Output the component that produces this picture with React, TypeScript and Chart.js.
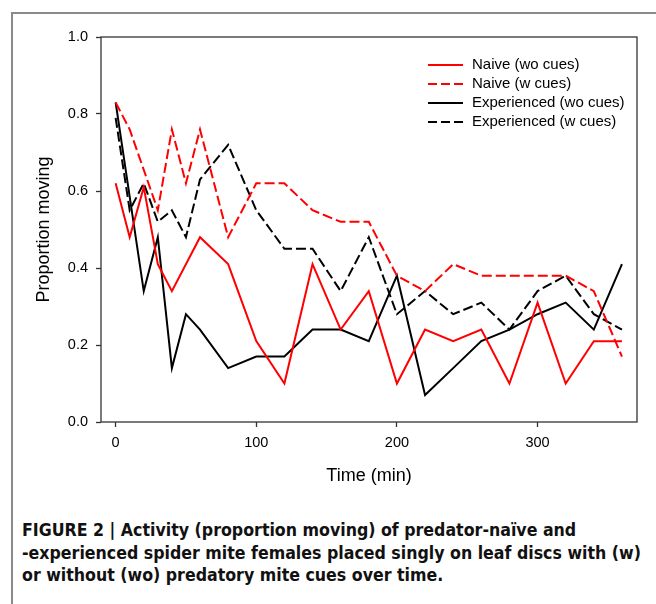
import React, { useEffect, useRef } from 'react';
import { Chart, registerables } from 'chart.js';

Chart.register(...registerables);

// Time points (min) and proportions moving for each series
const naiveWoTime = [0, 10, 20, 30, 40, 60, 80, 100, 120, 140, 160, 180, 200, 220, 240, 260, 280, 300, 320, 340, 360];
const naiveWoValues = [0.62, 0.48, 0.61, 0.41, 0.34, 0.48, 0.41, 0.21, 0.10, 0.41, 0.24, 0.34, 0.10, 0.24, 0.21, 0.24, 0.10, 0.31, 0.10, 0.21, 0.21];

const naiveWTime = [0, 10, 30, 40, 50, 60, 80, 100, 120, 140, 160, 180, 200, 220, 240, 260, 280, 300, 320, 340, 360];
const naiveWValues = [0.83, 0.76, 0.55, 0.76, 0.62, 0.76, 0.48, 0.62, 0.62, 0.55, 0.52, 0.52, 0.38, 0.34, 0.41, 0.38, 0.38, 0.38, 0.38, 0.34, 0.17];

const expWoTime = [0, 20, 30, 40, 50, 60, 80, 100, 120, 140, 160, 180, 200, 220, 240, 260, 280, 300, 320, 340, 360];
const expWoValues = [0.83, 0.34, 0.48, 0.14, 0.28, 0.24, 0.14, 0.17, 0.17, 0.24, 0.24, 0.21, 0.38, 0.07, 0.14, 0.21, 0.24, 0.28, 0.31, 0.24, 0.41];

const expWTime = [0, 10, 20, 30, 40, 50, 60, 80, 100, 120, 140, 160, 180, 200, 220, 240, 260, 280, 300, 320, 340, 360];
const expWValues = [0.79, 0.55, 0.62, 0.52, 0.55, 0.48, 0.63, 0.72, 0.55, 0.45, 0.45, 0.34, 0.48, 0.28, 0.34, 0.28, 0.31, 0.24, 0.34, 0.38, 0.28, 0.24];

const seriesNames = ['Naive (wo cues)', 'Naive (w cues)', 'Experienced (wo cues)', 'Experienced (w cues)'];
const xTickValues = [0, 100, 200, 300];
const yTickValues = [0, 0.2, 0.4, 0.6, 0.8, 1.0];
const xTitle = 'Time (min)';
const yTitle = 'Proportion moving';
const captionLines = [
  'FIGURE 2 | Activity (proportion moving) of predator-naïve and',
  '-experienced spider mite females placed singly on leaf discs with (w)',
  'or without (wo) predatory mite cues over time.',
];

const FONT = 'Arial, "Liberation Sans", Helvetica, sans-serif';
const DASH = [10, 4];

const toPoints = (t: number[], v: number[]) => t.map((x, i) => ({ x, y: v[i] }));

const styles = [
  { color: '#ff0000', dash: [] as number[] },
  { color: '#ff0000', dash: DASH },
  { color: '#000000', dash: [] as number[] },
  { color: '#000000', dash: DASH },
];

const decorPlugin = {
  id: 'decor',
  afterDraw(chart: any) {
    const { ctx, chartArea } = chart;
    const { left, right, top, bottom } = chartArea;
    ctx.save();
    // box
    ctx.strokeStyle = '#333333';
    ctx.lineWidth = 1.3;
    ctx.setLineDash([]);
    ctx.strokeRect(left, top, right - left, bottom - top);
    // axis titles
    ctx.fillStyle = '#000';
    ctx.font = `18px ${FONT}`;
    ctx.textAlign = 'center';
    ctx.textBaseline = 'middle';
    ctx.fillText(xTitle, (left + right) / 2, 476);
    ctx.save();
    ctx.translate(44, (top + bottom) / 2);
    ctx.rotate(-Math.PI / 2);
    ctx.fillText(yTitle, 0, 0);
    ctx.restore();
    // legend
    const lx0 = 428, lx1 = 463, tx = 472;
    const rows = [65, 84, 103, 122];
    ctx.font = `15px ${FONT}`;
    ctx.textAlign = 'left';
    ctx.textBaseline = 'middle';
    seriesNames.forEach((name, i) => {
      const y = rows[i];
      ctx.beginPath();
      ctx.strokeStyle = styles[i].color;
      ctx.lineWidth = 2;
      ctx.setLineDash(styles[i].dash.length ? [9, 4] : []);
      ctx.moveTo(lx0, y);
      ctx.lineTo(lx1, y);
      ctx.stroke();
      ctx.setLineDash([]);
      ctx.fillStyle = '#000';
      ctx.fillText(name, tx, y);
    });
    ctx.restore();
  },
};

function App() {
  const canvasRef = useRef<HTMLCanvasElement | null>(null);

  useEffect(() => {
    if (!canvasRef.current) return;
    const allData = [
      toPoints(naiveWoTime, naiveWoValues),
      toPoints(naiveWTime, naiveWValues),
      toPoints(expWoTime, expWoValues),
      toPoints(expWTime, expWValues),
    ];
    const chart = new Chart(canvasRef.current, {
      type: 'line',
      data: {
        datasets: allData.map((d, i) => ({
          label: seriesNames[i],
          data: d,
          borderColor: styles[i].color,
          backgroundColor: styles[i].color,
          borderDash: styles[i].dash,
          borderWidth: 2,
          pointRadius: 0,
          tension: 0,
          fill: false,
        })),
      },
      options: {
        animation: false,
        responsive: false,
        maintainAspectRatio: false,
        layout: { padding: { top: 37, right: 19, left: 0, bottom: 0 } },
        plugins: {
          legend: { display: false },
          tooltip: { enabled: false },
        },
        scales: {
          x: {
            type: 'linear',
            min: -10.4,
            max: 370.7,
            afterBuildTicks: (s: any) => {
              s.ticks = xTickValues.map((v) => ({ value: v }));
            },
            afterFit: (s: any) => {
              s.height = 78;
            },
            border: { display: false },
            grid: {
              drawOnChartArea: false,
              drawTicks: true,
              tickLength: 5,
              tickColor: '#333333',
              tickWidth: 1.3,
            },
            ticks: {
              color: '#000',
              font: { family: FONT, size: 14.5 },
              padding: 7,
              maxRotation: 0,
              autoSkip: false,
              callback: (v: any) => String(v),
            },
          },
          y: {
            type: 'linear',
            min: 0,
            max: 1,
            afterBuildTicks: (s: any) => {
              s.ticks = yTickValues.map((v) => ({ value: v }));
            },
            afterFit: (s: any) => {
              s.width = 101;
            },
            border: { display: false },
            grid: {
              drawOnChartArea: false,
              drawTicks: true,
              tickLength: 5,
              tickColor: '#333333',
              tickWidth: 1.3,
            },
            ticks: {
              color: '#000',
              font: { family: FONT, size: 14.5 },
              padding: 8,
              autoSkip: false,
              callback: (v: any) => Number(v).toFixed(1),
            },
          },
        },
      },
      plugins: [decorPlugin],
    });
    return () => chart.destroy();
  }, []);

  return (
    <div style={{ position: 'absolute', left: 0, top: 0, width: 656, height: 604, background: '#fff', overflow: 'hidden' }}>
      <div style={{ position: 'absolute', left: 11, top: 12, width: 645, height: 2, background: '#8a8a8a' }} />
      <div style={{ position: 'absolute', left: 11, top: 12, width: 2, height: 592, background: '#8a8a8a' }} />
      <canvas ref={canvasRef} width={656} height={500} style={{ position: 'absolute', left: 0, top: 0, width: 656, height: 500 }} />
      <div
        style={{
          position: 'absolute',
          left: 22,
          top: 519,
          fontFamily: '"Liberation Sans Narrow", "Arial Narrow", "DejaVu Sans Condensed", sans-serif',
          fontWeight: 'bold',
          fontSize: 17.6,
          lineHeight: '22.6px',
          color: '#111',
          whiteSpace: 'nowrap',
        }}
      >
        {captionLines.map((l, i) => (
          <div key={i}>{l}</div>
        ))}
      </div>
    </div>
  );
}

export default App;
